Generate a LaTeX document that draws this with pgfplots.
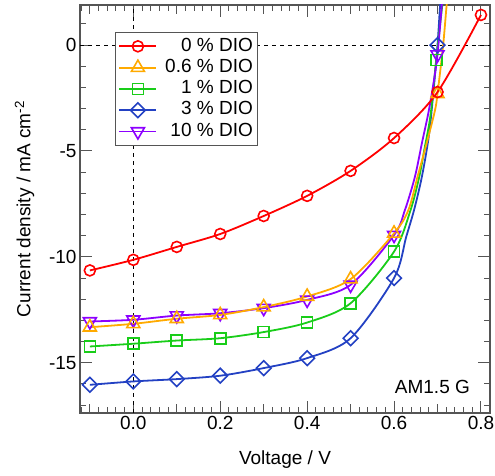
\documentclass[border=0pt]{standalone}
\usepackage{fontspec}
\setmainfont{Liberation Sans}
\usepackage{pgfplots}
\usepackage{pgfplotstable}
\pgfplotsset{compat=1.18}

\definecolor{cRed}{RGB}{255,0,0}
\definecolor{cOrange}{RGB}{255,170,0}
\definecolor{cGreen}{RGB}{25,205,25}
\definecolor{cBlue}{RGB}{35,65,195}
\definecolor{cPurple}{RGB}{140,0,255}
\definecolor{axgray}{RGB}{85,85,85}

% J-V curves under AM1.5 G illumination, DIO additive series
\pgfplotstableread{
x y
-0.1 -10.64
0.0 -10.14
0.1 -9.53
0.2 -8.92
0.3 -8.07
0.4 -7.12
0.5 -5.94
0.6 -4.39
0.7 -2.22
0.8 1.42
}\dioZero
\pgfplotstableread{
x y
-0.1 -13.32
0.0 -13.16
0.1 -12.92
0.2 -12.74
0.3 -12.37
0.4 -11.87
0.5 -11.05
0.6 -8.89
0.633 -7.79
0.654 -6.22
0.675 -4.64
0.694 -3.10
0.700 -2.30
0.713 0.00
0.721 1.89
0.725 2.60
}\dioSix
\pgfplotstableread{
x y
-0.1 -14.23
0.0 -14.10
0.1 -13.95
0.2 -13.84
0.3 -13.55
0.4 -13.10
0.5 -12.19
0.6 -9.75
0.638 -7.79
0.658 -6.22
0.670 -4.90
0.684 -3.30
0.697 -0.70
0.704 0.60
0.711 1.89
0.714 2.60
}\dioOne
\pgfplotstableread{
x y
-0.1 -16.04
0.0 -15.88
0.1 -15.77
0.2 -15.61
0.3 -15.25
0.4 -14.78
0.5 -13.84
0.6 -11.00
0.628 -9.05
0.646 -7.79
0.664 -6.22
0.680 -4.30
0.691 -2.12
0.700 0.00
0.706 1.89
0.709 2.60
}\dioThree
\pgfplotstableread{
x y
-0.1 -13.05
0.0 -12.97
0.1 -12.77
0.2 -12.66
0.3 -12.42
0.4 -12.03
0.5 -11.32
0.6 -8.97
0.625 -7.79
0.648 -6.22
0.664 -4.64
0.679 -3.20
0.690 -1.90
0.700 -0.45
0.710 1.90
0.714 2.60
}\dioTen

\newcommand{\bigfont}{\fontsize{19}{22}\selectfont}

\begin{document}
\begin{tikzpicture}
\begin{axis}[
  at={(0pt,0pt)}, anchor=south west,
  scale only axis, width=410pt, height=408pt,
  xmin=-0.1227, xmax=0.8208, ymin=-17.37, ymax=1.89,
  axis line style={axgray, line width=1.2pt},
  tick style={axgray, line width=1pt},
  tick align=inside,
  major tick length=12pt, minor tick length=6pt,
  xtick={0,0.2,0.4,0.6,0.8},
  xticklabels={0.0,0.2,0.4,0.6,0.8},
  minor xtick={-0.12,-0.10,...,0.81},
  extra x ticks={-0.1,0.1,0.3,0.5,0.7},
  extra x tick labels={},
  extra x tick style={major tick length=9pt},
  ytick={-15,-10,-5,0},
  yticklabels={-15,-10,-5,0},
  minor ytick={-17,-16,...,1},
  tick label style={font=\bigfont, text=black},
  every axis x label/.style={at={(axis description cs:0.5,-0.113)}, anchor=center},
  every axis y label/.style={at={(axis description cs:-0.135,0.5)}, anchor=center, rotate=90},
  xlabel={Voltage / V},
  ylabel={Current density / mA cm\textsuperscript{-2}},
  label style={font=\bigfont},
  legend cell align=right,
  legend image code/.code={%
    \draw[mark repeat=2, mark phase=2, #1]
      plot coordinates {(0pt,0pt) (18.5pt,0pt) (37pt,0pt)};},
  legend style={
    at={(axis description cs:0.0854,0.9346)}, anchor=north west,
    draw=axgray, line width=1pt, fill=white,
    font=\bigfont,
    inner xsep=3pt, inner ysep=3.5pt,
    nodes={inner sep=1.9pt, text height=13.5pt, text depth=4pt},
    row sep=0pt, column sep=6pt,
  },
  every axis plot/.append style={line width=1.8pt},
]
% reference lines through the origin
\addplot[forget plot, black, line width=0.8pt, dash pattern=on 4pt off 4pt]
  coordinates {(-0.1227,0) (0.8208,0)};
\addplot[forget plot, black, line width=0.8pt, dash pattern=on 4pt off 4pt]
  coordinates {(0,-17.37) (0,1.89)};

% curves, drawn back to front
\addplot[forget plot, cBlue, smooth, mark=square, mark size=5.2pt,
  mark indices={1,2,3,4,5,6,7,8,14},
  mark options={rotate=45, line width=1.6pt}] table[x=x,y=y] {\dioThree};
\addplot[forget plot, cGreen, smooth, mark=square, mark size=5.5pt,
  mark indices={1,2,3,4,5,6,7,8,13},
  mark options={line width=1.6pt}] table[x=x,y=y] {\dioOne};
\addplot[forget plot, cPurple, smooth, mark=triangle, mark size=7.5pt,
  mark indices={1,2,3,4,5,6,7,8,14},
  mark options={rotate=180, line width=1.6pt}] table[x=x,y=y] {\dioTen};
\addplot[forget plot, cOrange, smooth, mark=triangle, mark size=7.5pt,
  mark indices={1,2,3,4,5,6,7,8,13},
  mark options={line width=1.6pt}] table[x=x,y=y] {\dioSix};
\addplot[forget plot, cRed, smooth, mark=o, mark size=5.5pt,
  mark options={line width=1.6pt}] table[x=x,y=y] {\dioZero};

% legend in series order
\addlegendimage{cRed, line width=1.8pt, mark=o, mark size=5.5pt, mark options={line width=1.6pt}}
\addlegendentry{0 \% DIO}
\addlegendimage{cOrange, line width=1.8pt, mark=triangle, mark size=7.5pt, mark options={line width=1.6pt}}
\addlegendentry{0.6 \% DIO}
\addlegendimage{cGreen, line width=1.8pt, mark=square, mark size=5.5pt, mark options={line width=1.6pt}}
\addlegendentry{1 \% DIO}
\addlegendimage{cBlue, line width=1.8pt, mark=square, mark size=5.2pt, mark options={rotate=45, line width=1.6pt}}
\addlegendentry{3 \% DIO}
\addlegendimage{cPurple, line width=1.8pt, mark=triangle, mark size=7.5pt, mark options={rotate=180, line width=1.6pt}}
\addlegendentry{10 \% DIO}

\node[anchor=east, inner sep=0pt, font=\bigfont] at (axis cs:0.775,-16.13) {AM1.5 G};
\end{axis}
\pgfresetboundingbox
\path[use as bounding box] (-80pt,-63pt) rectangle (415pt,413pt);
\end{tikzpicture}
\end{document}
